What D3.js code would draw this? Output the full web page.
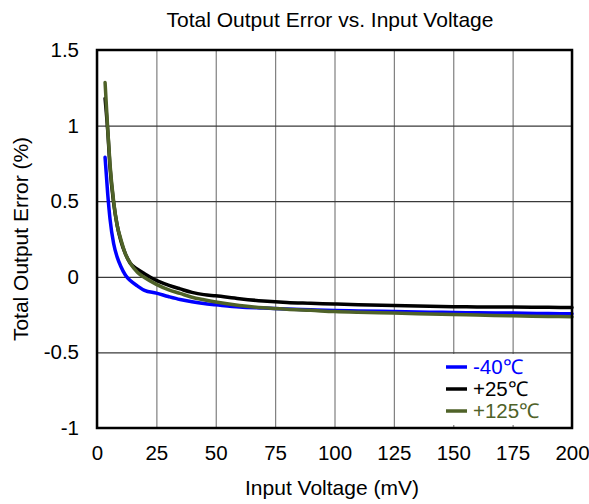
<!DOCTYPE html>
<html>
<head>
<meta charset="utf-8">
<script src="https://cdn.jsdelivr.net/npm/d3@7/dist/d3.min.js"></script>
<style>
  html, body { margin: 0; padding: 0; background: #fff; }
  svg { display: block; font-family: "Liberation Sans", Arial, sans-serif; }
</style>
</head>
<body>
<svg id="chart" width="589" height="504"></svg>
<script>
// Input voltage sample points (mV)
const voltage = [3.4, 4.5, 5.5, 7, 8.5, 10, 12, 14, 17, 20, 25, 30, 35, 40, 45, 50, 60, 70, 80, 90, 100, 110, 125, 140, 150, 160, 175, 190, 200];

// Total output error (%) per temperature
const errMinus40 = [0.79, 0.55, 0.38, 0.22, 0.13, 0.07, 0.01, -0.025, -0.06, -0.09, -0.108, -0.13, -0.15, -0.165, -0.177, -0.185, -0.2, -0.207, -0.213, -0.218, -0.223, -0.226, -0.23, -0.234, -0.236, -0.238, -0.24, -0.243, -0.245];
const errPlus25 = [1.18, 0.97, 0.72, 0.49, 0.34, 0.24, 0.15, 0.09, 0.05, 0.02, -0.024, -0.055, -0.08, -0.103, -0.118, -0.126, -0.145, -0.16, -0.17, -0.175, -0.18, -0.185, -0.19, -0.195, -0.198, -0.199, -0.2, -0.202, -0.203];
const errPlus125 = [1.285, 0.98, 0.74, 0.5, 0.34, 0.25, 0.15, 0.09, 0.03, -0.005, -0.05, -0.085, -0.11, -0.135, -0.152, -0.167, -0.19, -0.205, -0.215, -0.222, -0.23, -0.235, -0.24, -0.246, -0.25, -0.253, -0.258, -0.262, -0.265];

const seriesNames = ["-40℃", "+25℃", "+125℃"];
const seriesColors = ["#0000ff", "#000000", "#4f6228"];

const xTicks = [0, 25, 50, 75, 100, 125, 150, 175, 200];
const yTicks = [-1, -0.5, 0, 0.5, 1, 1.5];

const titleText = "Total Output Error vs. Input Voltage";
const xTitle = "Input Voltage (mV)";
const yTitle = "Total Output Error (%)";

const svg = d3.select("#chart");
const m = { left: 97, right: 572, top: 50, bottom: 428 };
const tickFont = 20.5;
const titleFont = 21;

const x = d3.scaleLinear().domain([0, 200]).range([m.left, m.right]);
const y = d3.scaleLinear().domain([-1, 1.5]).range([m.bottom, m.top]);

// Grid
svg.append("g")
  .attr("transform", `translate(0,${m.bottom})`)
  .call(d3.axisBottom(x).tickValues(xTicks).tickSize(-(m.bottom - m.top)).tickFormat(""))
  .call(g => g.select(".domain").remove())
  .call(g => g.selectAll("line").attr("stroke", "#7f7f7f").attr("stroke-width", 1.2));

svg.append("g")
  .attr("transform", `translate(${m.left},0)`)
  .call(d3.axisLeft(y).tickValues(yTicks).tickSize(-(m.right - m.left)).tickFormat(""))
  .call(g => g.select(".domain").remove())
  .call(g => g.selectAll("line").attr("stroke", "#3a3a3a").attr("stroke-width", 1.2));

// Tick labels
svg.append("g")
  .attr("transform", `translate(0,${m.bottom})`)
  .call(d3.axisBottom(x).tickValues(xTicks).tickSize(0).tickPadding(17).tickFormat(d3.format("d")))
  .call(g => g.select(".domain").remove())
  .call(g => g.selectAll("text").attr("font-size", tickFont).attr("fill", "#000")
    .attr("font-family", "Liberation Sans, Arial, sans-serif"));

svg.append("g")
  .attr("transform", `translate(${m.left},0)`)
  .call(d3.axisLeft(y).tickValues(yTicks).tickSize(0).tickPadding(18).tickFormat(d => String(d)))
  .call(g => g.select(".domain").remove())
  .call(g => g.selectAll("text").attr("font-size", tickFont).attr("fill", "#000")
    .attr("font-family", "Liberation Sans, Arial, sans-serif"));

// Curves
const allSeries = [errMinus40, errPlus25, errPlus125];
const line = d3.line()
  .x((d, i) => x(voltage[i]))
  .y(d => y(d))
  .curve(d3.curveMonotoneX);

svg.append("g").selectAll("path")
  .data(allSeries)
  .join("path")
  .attr("d", d => line(d))
  .attr("fill", "none")
  .attr("stroke", (d, i) => seriesColors[i])
  .attr("stroke-width", 3.5)
  .attr("stroke-linejoin", "round")
  .attr("stroke-linecap", "round");

// Legend
const lg = svg.append("g");
lg.append("rect")
  .attr("x", 441).attr("y", 354)
  .attr("width", m.right - 441).attr("height", 71)
  .attr("fill", "#fff");
seriesNames.forEach((name, i) => {
  const cy = 367 + i * 22;
  lg.append("line")
    .attr("x1", 446).attr("x2", 467)
    .attr("y1", cy).attr("y2", cy)
    .attr("stroke", seriesColors[i]).attr("stroke-width", 3.5);
  lg.append("text")
    .attr("x", 473).attr("y", cy + 7)
    .attr("font-size", tickFont)
    .attr("fill", seriesColors[i])
    .text(name);
});

// Frame
svg.append("rect")
  .attr("x", m.left).attr("y", m.top)
  .attr("width", m.right - m.left).attr("height", m.bottom - m.top)
  .attr("fill", "none").attr("stroke", "#000").attr("stroke-width", 2.5);

// Titles
svg.append("text")
  .attr("x", 330).attr("y", 27)
  .attr("text-anchor", "middle")
  .attr("font-size", titleFont)
  .text(titleText);

svg.append("text")
  .attr("x", 332).attr("y", 495)
  .attr("text-anchor", "middle")
  .attr("font-size", titleFont)
  .text(xTitle);

svg.append("text")
  .attr("transform", `translate(28,${(m.top + m.bottom) / 2}) rotate(-90)`)
  .attr("text-anchor", "middle")
  .attr("font-size", titleFont)
  .text(yTitle);
</script>
</body>
</html>
